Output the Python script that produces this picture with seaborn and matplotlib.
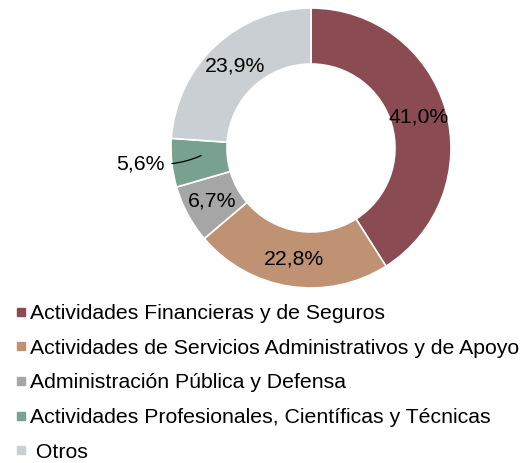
import matplotlib
matplotlib.use("Agg")
import matplotlib.pyplot as plt
import seaborn as sns
import numpy as np
from matplotlib.lines import Line2D

# Data
sectores = [
    "Actividades Financieras y de Seguros",
    "Actividades de Servicios Administrativos y de Apoyo",
    "Administración Pública y Defensa",
    "Actividades Profesionales, Científicas y Técnicas",
    " Otros",
]
porcentajes = [41.0, 22.8, 6.7, 5.6, 23.9]
colores = ["#8B4B52", "#C09274", "#A6A6A6", "#78A18F", "#C9CFD3"]

sns.set_style("white")
plt.rcParams["font.family"] = ["Liberation Sans", "DejaVu Sans"]
plt.rcParams["text.color"] = "black"

fs = 15.3

fig = plt.figure(figsize=(5.24, 4.63), dpi=100)
# donut axes: centre (311,148) px, radius 140 px
ax = fig.add_axes([(311 - 140) / 524, (463 - 288) / 463, 280 / 524, 280 / 463])

palette = sns.color_palette(colores)
wedges, _ = ax.pie(
    porcentajes,
    colors=palette,
    startangle=90,
    counterclock=False,
    radius=1.0,
    wedgeprops=dict(width=0.4, edgecolor="white", linewidth=1.2),
)
ax.set_xlim(-1, 1)
ax.set_ylim(-1, 1)
ax.set_aspect("equal")
ax.axis("off")

for w, v in zip(wedges, porcentajes):
    ang = np.deg2rad((w.theta1 + w.theta2) / 2)
    texto = f"{v:.1f}%".replace(".", ",")
    if v < 6:
        # small slice: label outside with a leader line
        x0, y0 = 0.79 * np.cos(ang), 0.79 * np.sin(ang) + 0.03
        ax.annotate(texto, xy=(x0, y0), xytext=(-1.22, -0.115),
                    ha="center", va="center", fontsize=fs,
                    arrowprops=dict(arrowstyle="-", color="black", lw=0.9,
                                    connectionstyle="arc3,rad=0.1",
                                    relpos=(1, 0.5), shrinkA=3, shrinkB=0),
                    annotation_clip=False)
    else:
        ax.text(0.8 * np.cos(ang), 0.8 * np.sin(ang), texto,
                ha="center", va="center", fontsize=fs)

handles = [Line2D([], [], marker="s", linestyle="", markersize=5.5,
                  markerfacecolor=c, markeredgecolor=c) for c in colores]
fig.legend(handles, sectores, loc="upper left",
           bbox_to_anchor=(15 / 524, 1 - 304 / 463),
           frameon=False, fontsize=fs, handlelength=0.6,
           handletextpad=0.11, labelspacing=0.74, borderpad=0,
           borderaxespad=0)

fig.savefig("out.png", dpi=100)
